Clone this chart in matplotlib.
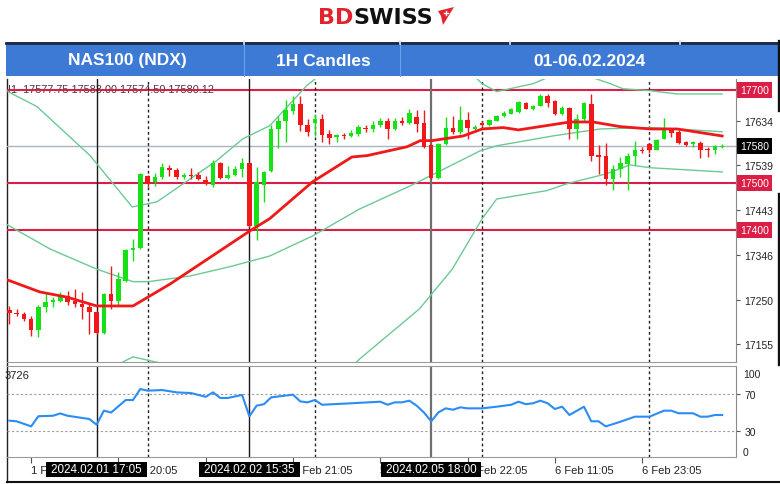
import matplotlib
matplotlib.use("Agg")
import matplotlib.pyplot as plt
from matplotlib.patches import Rectangle, Polygon
from matplotlib.transforms import blended_transform_factory
import numpy as np

plt.rcParams['font.family'] = ['Liberation Sans', 'DejaVu Sans']

# ---------------- data ----------------
opens = [17229, 17222, 17220, 17209, 17186, 17235, 17246, 17247, 17259, 17248,
         17241, 17234, 17224, 17179, 17263, 17248, 17291, 17356, 17361, 17516,
         17503, 17513, 17532, 17529, 17513, 17518, 17518, 17507, 17495, 17543,
         17511, 17518, 17530, 17544, 17409, 17496, 17527, 17615, 17632, 17654,
         17670, 17624, 17629, 17638, 17606, 17598, 17604, 17602, 17606, 17619,
         17615, 17624, 17634, 17615, 17634, 17629, 17641, 17629, 17581, 17511,
         17584, 17618, 17609, 17636, 17616, 17629, 17624, 17634, 17643, 17649,
         17652, 17672, 17658, 17666, 17686, 17675, 17649, 17661, 17616, 17638,
         17670, 17559, 17559, 17509, 17531, 17541, 17558, 17572, 17584, 17571,
         17595, 17613, 17609, 17588, 17584, 17586, 17574, 17570, 17577.75]
closes = [17222, 17220, 17209, 17186, 17235, 17246, 17250, 17258, 17246, 17241,
          17234, 17224, 17179, 17263, 17248, 17295, 17356, 17361, 17520, 17499,
          17514, 17534, 17529, 17513, 17518, 17516, 17509, 17499, 17543, 17511,
          17518, 17531, 17543, 17409, 17503, 17524, 17615, 17634, 17656, 17670,
          17625, 17609, 17638, 17604, 17597, 17604, 17600, 17608, 17620, 17615,
          17625, 17634, 17616, 17634, 17629, 17651, 17627, 17577, 17511, 17584,
          17618, 17609, 17636, 17618, 17620, 17625, 17636, 17644, 17651, 17658,
          17674, 17659, 17666, 17686, 17672, 17649, 17661, 17616, 17638, 17672,
          17559, 17557, 17509, 17531, 17544, 17558, 17572, 17568, 17570, 17593,
          17613, 17608, 17586, 17581, 17588, 17572, 17571, 17579, 17580.12]
highs = [17237, 17231, 17224, 17216, 17239, 17263, 17256, 17267, 17270, 17274,
         17266, 17241, 17226, 17265, 17323, 17310, 17360, 17381, 17522, 17518,
         17522, 17543, 17538, 17532, 17522, 17532, 17524, 17516, 17549, 17545,
         17536, 17536, 17554, 17545, 17535, 17527, 17624, 17644, 17677, 17686,
         17686, 17638, 17649, 17649, 17613, 17606, 17608, 17613, 17624, 17624,
         17634, 17639, 17639, 17639, 17641, 17659, 17656, 17656, 17584, 17586,
         17641, 17644, 17665, 17653, 17624, 17633, 17638, 17646, 17654, 17660,
         17675, 17674, 17668, 17691, 17691, 17679, 17665, 17663, 17649, 17674,
         17691, 17582, 17586, 17539, 17556, 17565, 17591, 17577, 17586, 17595,
         17639, 17616, 17613, 17591, 17591, 17591, 17577, 17582, 17583.00]
lows = [17199, 17216, 17205, 17173, 17171, 17224, 17235, 17245, 17238, 17235,
        17209, 17177, 17177, 17176, 17231, 17237, 17289, 17334, 17359, 17492,
        17494, 17509, 17516, 17509, 17509, 17509, 17506, 17496, 17491, 17509,
        17509, 17516, 17514, 17406, 17379, 17460, 17524, 17575, 17589, 17649,
        17611, 17602, 17602, 17589, 17584, 17589, 17595, 17599, 17602, 17609,
        17609, 17620, 17595, 17613, 17624, 17627, 17609, 17575, 17509, 17509,
        17581, 17606, 17606, 17594, 17613, 17622, 17622, 17632, 17641, 17647,
        17651, 17658, 17656, 17665, 17663, 17645, 17645, 17595, 17595, 17634,
        17548, 17520, 17495, 17486, 17513, 17486, 17539, 17565, 17565, 17570,
        17594, 17599, 17584, 17579, 17577, 17554, 17556, 17563, 17574.50]

# moving average (red) vertices: candle index, price
ma_idx = [-0.3, 4.2, 7.9, 12.0, 17.0, 22.1, 33.1, 35.8, 41.7, 47.1, 49.2, 54.7,
          56.5, 58.1, 62.4, 65.0, 67.9, 70.0, 77.1, 80.2, 84.0, 88.1, 91.8, 98.0]
ma_val = [17293, 17267, 17256, 17237, 17237, 17284, 17398, 17424, 17503, 17556,
          17559, 17578, 17591, 17591, 17601, 17616, 17619, 17614, 17631, 17631,
          17621, 17616, 17616, 17601]

# Bollinger bands (green) vertices
bu_idx = [-0.2, 3.8, 11.1, 16.9, 20.3, 28.5, 32.1, 35.8, 40.9, 44.1, 53.7, 59.2,
          62.6, 65.0, 67.0, 72.0, 74.3, 79.8, 82.6, 84.4, 88.1, 91.8, 98.0]
bu_val = [17696, 17664, 17559, 17449, 17460, 17548, 17595, 17623, 17709, 17749,
          17769, 17773, 17749, 17713, 17696, 17713, 17728, 17728, 17713, 17702,
          17698, 17691, 17691]
bm_idx = [-0.3, 5.6, 12.0, 17.0, 19.1, 24.8, 30.3, 35.8, 41.7, 48.2, 55.1, 59.2,
          64.7, 67.0, 74.7, 81.2, 88.1, 91.8, 98.0]
bm_val = [17411, 17359, 17316, 17289, 17289, 17301, 17321, 17344, 17387, 17445,
          17494, 17526, 17569, 17580, 17601, 17616, 17619, 17616, 17610]
bl_idx = [-0.3, 5.6, 12.0, 15.6, 17.0, 20.7, 26.2, 33.1, 39.9, 45.4, 48.2, 56.4,
          60.9, 65.0, 67.0, 73.9, 76.7, 82.1, 85.3, 88.1, 98.0]
bl_val = [17106, 17081, 17085, 17117, 17128, 17115, 17089, 17061, 17059, 17081,
          17124, 17231, 17316, 17424, 17466, 17484, 17499, 17520, 17539, 17533,
          17524]

# RSI vertices
rsi_idx = [0, 1, 3, 4, 6, 7, 8, 11, 12, 13, 14, 16, 17, 18, 19, 21, 23, 25, 27, 28,
           29, 30, 32, 33, 34, 35, 36, 39, 40, 41, 42, 43, 47, 51, 52, 53, 54, 55,
           56, 57, 58, 59, 60, 61, 62, 63, 65, 67, 69, 70, 71, 72, 73, 74, 75, 76,
           77, 79, 80, 81, 82, 84, 86, 88, 90, 91, 92, 94, 95, 96, 97, 98]
rsi_val = [41.2, 40.5, 35.0, 46.0, 46.5, 49.0, 46.5, 43.0, 36.8, 52.0, 50.0, 63.5,
           63.5, 75.4, 73.6, 74.3, 71.8, 71.0, 67.0, 71.8, 65.7, 65.7, 69.0, 46.0,
           57.4, 59.0, 66.4, 69.3, 62.0, 61.0, 63.5, 58.4, 60.0, 61.7, 58.4, 61.0,
           61.0, 62.8, 57.4, 50.0, 40.5, 50.2, 54.5, 53.0, 55.6, 54.5, 54.5, 56.3,
           58.4, 61.7, 59.0, 60.0, 62.8, 60.0, 53.8, 56.3, 47.3, 56.3, 40.5, 40.5,
           35.0, 40.0, 45.5, 45.5, 52.0, 52.0, 49.2, 49.2, 45.5, 45.5, 47.3, 47.3]
rsi_levels = [70, 30]
rsi_axis_labels = ["100", "70", "30", "0"]
rsi_readout = "3726"

level_prices = [17700, 17500, 17400]
last_price = 17580
price_ticks = [17634, 17539, 17443, 17346, 17250, 17155]
ohlc_readout = "I1  17577.75 17583.00 17574.50 17580.12"

time_tick_idx = [3, 15, 27, 39, 51, 63, 75, 87]
time_tick_labels = ["1 Feb 08:05", "1 Feb 20:05", "2 Feb 09:05", "2 Feb 21:05",
                    "5 Feb 10:05", "5 Feb 22:05", "6 Feb 11:05", "6 Feb 23:05"]
cursor_idx = [12, 33, 58]
cursor_labels = ["2024.02.01 17:05", "2024.02.02 15:35", "2024.02.05 18:00"]
grid_idx = [19, 42, 65, 88]

header_cells = ["NAS100 (NDX)", "1H Candles", "01-06.02.2024"]

# ---------------- styling ----------------
W, H = 780, 485
GREEN = '#16E016'
RED = '#F01818'
CRIMSON = '#DC1E46'
BANDC = '#6CC995'
BLUE = '#3D7AD6'

fig = plt.figure(figsize=(W / 100, H / 100), dpi=100)
fig.patch.set_facecolor('white')


def rect(x0, y0, x1, y1):
    return [x0 / W, 1 - y1 / H, (x1 - x0) / W, (y1 - y0) / H]


bg = fig.add_axes([0, 0, 1, 1], zorder=0)
bg.set_xlim(0, W)
bg.set_ylim(H, 0)
bg.axis('off')

ax = fig.add_axes(rect(7, 80, 736, 363), zorder=1)
ax2 = fig.add_axes(rect(7, 367, 736, 458), zorder=1)
for a in (ax, ax2):
    a.patch.set_visible(False)
    a.spines['left'].set_visible(False)
    a.spines['top'].set_visible(False)
    a.spines['right'].set_color('#8a8a8a')
    a.spines['bottom'].set_color('#9a9a9a')
ax2.spines['top'].set_visible(True)
ax2.spines['top'].set_color('#9a9a9a')

# ---------- header ----------
bg.add_patch(Rectangle((6, 43), 772, 34, fc=BLUE, ec='none'))
bg.plot([6, 778], [43.5, 43.5], color='#1E2A44', lw=2)
for x in [244, 400]:
    bg.plot([x, x], [45, 77], color='#6C9FE8', lw=0.8)
for x in [244, 400, 510, 680]:
    bg.plot([x, x], [42, 45], color='#dfe6f3', lw=1.2)
for x, t in zip([127, 323, 590], header_cells):
    bg.text(x, 61, t, color='white', fontsize=12.5, fontweight='bold',
            ha='center', va='center')

# logo
bg.text(353, 17.5, "BD", color='#E3232B', fontsize=16, fontweight='bold',
        family='DejaVu Sans', ha='right', va='center')
bg.text(353, 17.5, "SWISS", color='#111111', fontsize=16, fontweight='bold',
        family='DejaVu Sans', ha='left', va='center')
bg.add_patch(Polygon([[438, 12], [454, 8], [443, 26], [441, 17]], closed=True,
                     fc='#E3232B', ec='none'))
bg.plot([444, 448], [13.5, 13.5], color='white', lw=1)
bg.plot([446, 446], [11.5, 15.5], color='white', lw=1)

# frame lines
bg.plot([7, 7], [80, 483], color='#222222', lw=1)
bg.plot([7, 780], [483, 483], color='#111111', lw=1.5)
bg.plot([778.8, 778.8], [42, 111], color='#111111', lw=2.4)
bg.plot([778.8, 778.8], [195, 365], color='#111111', lw=2.4)

# ---------- main price panel ----------
x_lo, x_hi = -0.32, 99.9
ax.set_xlim(x_lo, x_hi)
ax.set_ylim(17117, 17723)

for v in level_prices:
    ax.axhline(v, color=CRIMSON, lw=1.5, zorder=2)
ax.axhline(last_price, color='#A9B3BF', lw=1, zorder=2)

for i in cursor_idx:
    c = '#6f6f6f' if i == cursor_idx[-1] else '#1a1a1a'
    w = 1.6 if i == cursor_idx[-1] else 1.0
    ax.axvline(i, color=c, lw=w, zorder=2)
    ax2.axvline(i, color=c, lw=w, zorder=2)
for i in grid_idx:
    ax.axvline(i, color='#222222', lw=1, ls=(0, (2, 2)), zorder=2)
    ax2.axvline(i, color='#222222', lw=1, ls=(0, (2, 2)), zorder=2)

ax.plot(bu_idx, bu_val, color=BANDC, lw=1, zorder=3)
ax.plot(bm_idx, bm_val, color=BANDC, lw=1, zorder=3)
ax.plot(bl_idx, bl_val, color=BANDC, lw=1, zorder=3)
ax.plot(ma_idx, ma_val, color=RED, lw=2, zorder=5, solid_joinstyle='round')

idx = np.arange(len(opens))
o = np.array(opens, float)
c = np.array(closes, float)
hh = np.array(highs, float)
ll = np.array(lows, float)
cols = np.where(c >= o, GREEN, RED)
ax.vlines(idx, ll, hh, colors=cols, lw=1, zorder=4)
ax.bar(idx, np.maximum(np.abs(c - o), 2.2), bottom=np.minimum(o, c), width=0.62,
       color=cols, linewidth=0, zorder=4)

ax.set_xticks([])
ax.yaxis.tick_right()
ax.set_yticks(price_ticks)
ax.set_yticklabels([str(v) for v in price_ticks])
ax.tick_params(axis='y', length=3, width=0.8, pad=3, colors='#555555',
               labelcolor='#222222', labelsize=7.5)

ytr = ax.get_yaxis_transform()
for v in level_prices:
    ax.text(1.006, v, str(v), transform=ytr, ha='left', va='center', color='white',
            fontsize=7.5, clip_on=False, zorder=10,
            bbox=dict(boxstyle='square,pad=0.28', fc=CRIMSON, ec='none'))
ax.text(1.006, last_price, str(last_price), transform=ytr, ha='left', va='center',
        color='white', fontsize=7.5, clip_on=False, zorder=10,
        bbox=dict(boxstyle='square,pad=0.28', fc='black', ec='none'))
ax.text(0.0015, 17702, ohlc_readout, transform=ytr, ha='left', va='center',
        fontsize=7.8, color='#3a3a3a', zorder=1)

# ---------- RSI panel ----------
ax2.set_xlim(x_lo, x_hi)
ax2.set_ylim(1.9, 100.3)
for lv in rsi_levels:
    ax2.axhline(lv, color='#9c9c9c', lw=0.8, ls=(0, (2, 2)), zorder=1)
ax2.plot(rsi_idx, rsi_val, color='#2B8CF5', lw=1.5, zorder=5)

ax2.yaxis.tick_right()
ax2.set_yticks(rsi_levels)
ax2.set_yticklabels([rsi_axis_labels[1], rsi_axis_labels[2]])
ax2.tick_params(axis='y', length=3, width=0.8, pad=3, colors='#555555',
                labelcolor='#222222', labelsize=7.5)
ytr2 = ax2.get_yaxis_transform()
ax2.text(1.0095, 97.5, rsi_axis_labels[0], transform=ytr2, ha='left', va='top',
         fontsize=7.5, color='#222222', clip_on=False)
ax2.text(1.0095, 1.9, rsi_axis_labels[3], transform=ytr2, ha='left', va='bottom',
         fontsize=7.5, color='#222222', clip_on=False)
ax2.text(-0.003, 0.9, rsi_readout, transform=ax2.transAxes, ha='left', va='center',
         fontsize=8, color='#222222')

ax2.set_xticks(time_tick_idx)
ax2.set_xticklabels(time_tick_labels)
for lbl in ax2.get_xticklabels():
    lbl.set_ha('left')
ax2.tick_params(axis='x', length=4, width=0.8, pad=2, colors='#555555',
                labelcolor='#222222', labelsize=8)

# cursor time boxes (black) on the time axis
xtr = blended_transform_factory(ax2.transData, ax2.transAxes)
half_w = 6.9  # in candle units (~50 px)
for i, t in zip(cursor_idx, cursor_labels):
    ax2.add_patch(Rectangle((i - half_w, -0.215), 2 * half_w, 0.16, transform=xtr,
                            fc='black', ec='none', clip_on=False, zorder=9))
    ax2.text(i, -0.135, t, transform=xtr, ha='center', va='center', color='white',
             fontsize=8.4, clip_on=False, zorder=10)

fig.savefig('out.png', dpi=100)
